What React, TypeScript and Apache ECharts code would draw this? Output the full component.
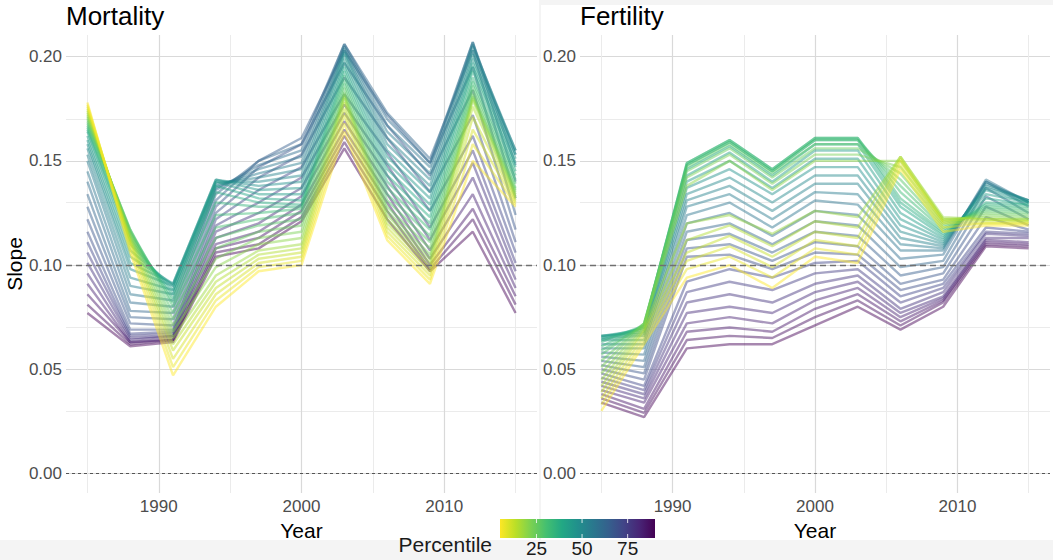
import React, { useEffect, useRef } from "react";
import * as echarts from "echarts";

const years = [1985, 1988, 1991, 1994, 1997, 2000, 2003, 2006, 2009, 2012, 2015];
const percentiles = [5, 7.5, 10, 12.5, 15, 17.5, 20, 22.5, 25, 27.5, 30, 32.5, 35, 37.5, 40, 42.5, 45, 47.5, 50, 52.5, 55, 57.5, 60, 62.5, 65, 67.5, 70, 72.5, 75, 77.5, 80, 82.5, 85, 87.5, 90];

// Mortality slope, one array per year, values ordered by percentile
const mort1985 = [0.178,0.177,0.176,0.175,0.174,0.173, 0.172,0.171,0.170,0.169,0.168,0.167,0.166,0.165, 0.164,0.162,0.160,0.158,0.156,0.153,0.150, 0.145,0.140,0.134,0.128,0.122,0.116, 0.111,0.106,0.101,0.096,0.091,0.086,0.081,0.077];
const mort1988 = [0.106,0.108,0.110,0.111,0.112,0.113, 0.114,0.115,0.116,0.117,0.117,0.116,0.114,0.112, 0.110,0.107,0.104,0.101,0.098,0.094,0.090, 0.086,0.082,0.078,0.075,0.072,0.069, 0.067,0.066,0.065,0.064,0.063,0.063,0.062,0.061];
const mort1991 = [0.047,0.051,0.055,0.059,0.062,0.065, 0.068,0.071,0.074,0.077,0.080,0.082,0.084,0.086, 0.088,0.090,0.091,0.091,0.090,0.088,0.086, 0.083,0.080,0.077,0.074,0.071,0.069, 0.068,0.067,0.066,0.066,0.065,0.064,0.064,0.063];
const mort1994 = [0.080,0.083,0.086,0.089,0.092,0.095, 0.099,0.103,0.108,0.113,0.118,0.124,0.130,0.135, 0.138,0.140,0.141,0.141,0.140,0.139,0.138, 0.137,0.136,0.134,0.131,0.128,0.125, 0.122,0.119,0.116,0.113,0.110,0.108,0.106,0.104];
const mort1997 = [0.097,0.099,0.101,0.103,0.105,0.107, 0.110,0.113,0.116,0.119,0.122,0.125,0.128,0.130, 0.132,0.134,0.136,0.138,0.140,0.142,0.144, 0.146,0.148,0.150,0.150,0.147,0.142, 0.136,0.130,0.125,0.120,0.116,0.113,0.110,0.108];
const mort2000 = [0.100,0.102,0.104,0.106,0.108,0.110, 0.113,0.116,0.119,0.122,0.125,0.127,0.128,0.129, 0.131,0.134,0.137,0.140,0.143,0.146,0.149, 0.152,0.155,0.158,0.161,0.158,0.153, 0.147,0.142,0.137,0.133,0.129,0.126,0.123,0.121];
const mort2003 = [0.164,0.168,0.172,0.175,0.178,0.180, 0.181,0.182,0.183,0.185,0.187,0.189,0.191,0.193, 0.195,0.197,0.199,0.201,0.202,0.203,0.204, 0.205,0.206,0.206,0.203,0.197,0.190, 0.182,0.177,0.173,0.169,0.165,0.162,0.159,0.156];
const mort2006 = [0.112,0.114,0.116,0.118,0.120,0.122, 0.124,0.126,0.128,0.131,0.134,0.137,0.140,0.143, 0.146,0.149,0.152,0.155,0.158,0.161,0.164, 0.167,0.170,0.173,0.172,0.167,0.161, 0.154,0.148,0.143,0.138,0.134,0.130,0.126,0.122];
const mort2009 = [0.091,0.093,0.095,0.097,0.099,0.101, 0.103,0.105,0.108,0.111,0.114,0.117,0.120,0.123, 0.126,0.129,0.132,0.135,0.138,0.141,0.144, 0.147,0.149,0.151,0.149,0.143,0.135, 0.126,0.118,0.112,0.107,0.103,0.100,0.098,0.097];
const mort2012 = [0.150,0.158,0.165,0.171,0.176,0.179, 0.180,0.181,0.182,0.184,0.186,0.188,0.190,0.193, 0.195,0.197,0.199,0.201,0.203,0.205,0.206, 0.207,0.207,0.203,0.195,0.184,0.172, 0.162,0.155,0.149,0.142,0.134,0.127,0.122,0.116];
const mort2015 = [0.128,0.129,0.130,0.131,0.132,0.133, 0.134,0.135,0.136,0.137,0.139,0.141,0.143,0.145, 0.147,0.149,0.151,0.153,0.155,0.155,0.153, 0.148,0.140,0.132,0.124,0.117,0.111, 0.106,0.101,0.097,0.093,0.089,0.085,0.081,0.077];

// Fertility slope, one array per year, values ordered by percentile
const fert1985 = [0.030,0.033,0.036,0.039,0.042,0.045, 0.048,0.051,0.054,0.057,0.059,0.061,0.063,0.064, 0.065,0.066,0.066,0.066,0.065,0.064,0.062, 0.060,0.058,0.056,0.054,0.052,0.050, 0.048,0.046,0.044,0.042,0.040,0.038,0.036,0.034];
const fert1988 = [0.062,0.064,0.066,0.068,0.069,0.070, 0.071,0.072,0.072,0.072,0.071,0.071,0.071,0.070, 0.070,0.069,0.068,0.067,0.066,0.064,0.062, 0.060,0.057,0.054,0.051,0.048,0.045, 0.042,0.040,0.038,0.036,0.034,0.031,0.029,0.027];
const fert1991 = [0.094,0.098,0.102,0.106,0.112,0.120, 0.138,0.142,0.145,0.147,0.148,0.149,0.149,0.148, 0.146,0.143,0.140,0.137,0.134,0.131,0.128, 0.124,0.120,0.116,0.112,0.108,0.104, 0.092,0.087,0.082,0.077,0.072,0.068,0.064,0.060];
const fert1994 = [0.100,0.104,0.109,0.114,0.119,0.124, 0.150,0.153,0.156,0.158,0.159,0.160,0.160,0.159, 0.157,0.154,0.150,0.146,0.142,0.138,0.134, 0.130,0.125,0.120,0.115,0.110,0.105, 0.098,0.092,0.086,0.080,0.075,0.070,0.066,0.062];
const fert1997 = [0.089,0.094,0.099,0.104,0.109,0.115, 0.136,0.139,0.142,0.144,0.145,0.146,0.146,0.145, 0.143,0.140,0.137,0.134,0.130,0.126,0.122, 0.118,0.114,0.110,0.106,0.102,0.098, 0.094,0.088,0.082,0.077,0.072,0.068,0.065,0.062];
const fert2000 = [0.104,0.108,0.112,0.116,0.121,0.126, 0.150,0.153,0.156,0.158,0.160,0.161,0.161,0.160, 0.158,0.155,0.151,0.147,0.143,0.139,0.135, 0.131,0.126,0.121,0.116,0.111,0.106, 0.101,0.096,0.091,0.087,0.083,0.079,0.075,0.071];
const fert2003 = [0.101,0.105,0.109,0.113,0.118,0.123, 0.150,0.153,0.156,0.158,0.160,0.161,0.161,0.160, 0.158,0.155,0.151,0.147,0.143,0.139,0.134, 0.129,0.124,0.119,0.114,0.109,0.105, 0.102,0.098,0.095,0.092,0.089,0.086,0.083,0.080];
const fert2006 = [0.146,0.148,0.150,0.151,0.152,0.152, 0.150,0.147,0.144,0.141,0.138,0.135,0.132,0.130, 0.128,0.125,0.122,0.119,0.116,0.113,0.110, 0.107,0.103,0.099,0.095,0.091,0.088, 0.085,0.082,0.079,0.077,0.075,0.073,0.071,0.069];
const fert2009 = [0.116,0.118,0.120,0.121,0.122,0.123, 0.122,0.121,0.120,0.119,0.118,0.117,0.116,0.115, 0.114,0.113,0.112,0.111,0.110,0.109,0.108, 0.107,0.105,0.102,0.099,0.096,0.093, 0.091,0.089,0.087,0.085,0.084,0.083,0.082,0.080];
const fert2012 = [0.119,0.120,0.120,0.121,0.122,0.122, 0.123,0.124,0.125,0.126,0.127,0.128,0.129,0.130, 0.132,0.134,0.136,0.137,0.138,0.139,0.140, 0.141,0.140,0.137,0.133,0.128,0.123, 0.118,0.116,0.115,0.113,0.112,0.111,0.110,0.109];
const fert2015 = [0.119,0.120,0.120,0.121,0.121,0.122, 0.122,0.123,0.124,0.125,0.126,0.127,0.128,0.129, 0.129,0.130,0.130,0.131,0.131,0.131,0.130, 0.130,0.128,0.125,0.122,0.119,0.117, 0.116,0.115,0.114,0.113,0.111,0.110,0.109,0.108];

const mortalityColumns = [mort1985, mort1988, mort1991, mort1994, mort1997, mort2000, mort2003, mort2006, mort2009, mort2012, mort2015];
const fertilityColumns = [fert1985, fert1988, fert1991, fert1994, fert1997, fert2000, fert2003, fert2006, fert2009, fert2012, fert2015];

const xLabelTicks = [1990, 2000, 2010];
const xMinorGrid = [1985, 1995, 2005, 2015];
const yLabelTicks = [0, 0.05, 0.1, 0.15, 0.2];
const yMinorGrid = [0.025, 0.075, 0.125, 0.175];
const referenceLines = [0, 0.1];
const legendTicks = [25, 50, 75];
const percentileRange = [5, 90];

const viridisStops = ["#440154", "#482576", "#414487", "#35608D", "#2A788E", "#21908C", "#22A884", "#43BF71", "#7AD151", "#BBDF27", "#FDE725"];

const FONT = '"Liberation Sans", Arial, Helvetica, sans-serif';

function hexToRgb(h: string) {
  const n = parseInt(h.slice(1), 16);
  return [(n >> 16) & 255, (n >> 8) & 255, n & 255];
}
function viridis(t: number) {
  const n = viridisStops.length - 1;
  const x = Math.max(0, Math.min(1, t)) * n;
  const k = Math.min(n - 1, Math.floor(x));
  const f = x - k;
  const a = hexToRgb(viridisStops[k]);
  const b = hexToRgb(viridisStops[k + 1]);
  const c = a.map((v, j) => Math.round(v + (b[j] - v) * f));
  return `rgb(${c.join(",")})`;
}
function colorFor(p: number) {
  return viridis(1 - (p - percentileRange[0]) / (percentileRange[1] - percentileRange[0]));
}

function makeLines(columns: number[][], gi: number) {
  // high percentiles first so the low (yellow) percentiles are drawn on top
  const order = percentiles.map((_, i) => i).reverse();
  return order.map((i) => {
    const p = percentiles[i];
    const col = colorFor(p);
    return {
      type: "line",
      name: `${gi}-${p}`,
      xAxisIndex: gi,
      yAxisIndex: gi,
      data: years.map((y, j) => [y, columns[j][i]]),
      symbol: "none",
      silent: true,
      z: 3,
      lineStyle: { color: col, width: 2.4, opacity: 0.47 },
      itemStyle: { color: col },
    };
  });
}

function gridSeries(gi: number) {
  const major = { color: "#d9d9d9", width: 1.2, type: "solid" };
  const minor = { color: "#ebebeb", width: 1, type: "solid" };
  return {
    type: "line",
    xAxisIndex: gi,
    yAxisIndex: gi,
    data: [],
    symbol: "none",
    silent: true,
    markLine: {
      z: 1,
      silent: true,
      symbol: ["none", "none"],
      label: { show: false },
      data: [
        ...yMinorGrid.map((v) => ({ yAxis: v, lineStyle: minor })),
        ...yLabelTicks.map((v) => ({ yAxis: v, lineStyle: major })),
        ...xMinorGrid.map((v) => ({ xAxis: v, lineStyle: minor })),
        ...xLabelTicks.map((v) => ({ xAxis: v, lineStyle: major })),
      ],
    },
  };
}

function refSeries(gi: number) {
  return {
    type: "line",
    xAxisIndex: gi,
    yAxisIndex: gi,
    data: [],
    symbol: "none",
    silent: true,
    markLine: {
      z: 10,
      silent: true,
      symbol: ["none", "none"],
      label: { show: false },
      data: referenceLines.map((v) => ({
        yAxis: v,
        lineStyle: v === 0
          ? { color: "#555555", width: 1, type: [3, 3] }
          : { color: "#707070", width: 1.4, type: [6, 4] },
      })),
    },
  };
}

export default function App() {
  const ref = useRef<HTMLDivElement>(null);
  useEffect(() => {
    if (!ref.current) return;
    const chart = echarts.init(ref.current, undefined, { renderer: "svg" });

    const xAxisFor = (gi: number) => ({
      type: "value",
      gridIndex: gi,
      min: 1983.5,
      max: 2016.5,
      minInterval: 10,
      maxInterval: 10,
      splitLine: { show: false },
      axisLine: { show: false },
      axisTick: { show: false },
      axisLabel: {
        color: "#4d4d4d",
        fontSize: 17,
        fontFamily: FONT,
        margin: 5,
        formatter: (v: number) => (xLabelTicks.some((t) => Math.abs(t - v) < 1e-6) ? String(v) : ""),
      },
      name: "Year",
      nameLocation: "middle",
      nameGap: 20,
      nameTextStyle: { fontSize: 21, color: "#000", fontFamily: FONT },
    });
    const yAxisFor = (gi: number) => ({
      type: "value",
      gridIndex: gi,
      min: -0.0094,
      max: 0.2104,
      minInterval: 0.05,
      maxInterval: 0.05,
      splitLine: { show: false },
      axisLine: { show: false },
      axisTick: { show: false },
      axisLabel: {
        color: "#4d4d4d",
        fontSize: 17,
        fontFamily: FONT,
        margin: 4,
        formatter: (v: number) => (yLabelTicks.some((t) => Math.abs(t - v) < 1e-9) ? v.toFixed(2) : ""),
      },
      name: gi === 0 ? "Slope" : "",
      nameLocation: "middle",
      nameGap: 40,
      nameTextStyle: { fontSize: 21, color: "#000", fontFamily: FONT },
    });

    const barX = 500, barY = 519, barW = 155, barH = 19;
    const tickX = (p: number) => barX + ((p - percentileRange[0]) / (percentileRange[1] - percentileRange[0])) * barW;
    const gray = "#f4f4f4";

    chart.setOption({
      animation: false,
      backgroundColor: "#ffffff",
      title: [
        { text: "Mortality", left: 66, top: 3, padding: 0, textStyle: { fontSize: 26, fontWeight: "normal", color: "#000", fontFamily: FONT } },
        { text: "Fertility", left: 580, top: 3, padding: 0, textStyle: { fontSize: 26, fontWeight: "normal", color: "#000", fontFamily: FONT } },
      ],
      grid: [
        { left: 66, top: 35, width: 471, height: 458 },
        { left: 580, top: 35, width: 470, height: 458 },
      ],
      xAxis: [xAxisFor(0), xAxisFor(1)],
      yAxis: [yAxisFor(0), yAxisFor(1)],
      graphic: [
        { type: "rect", silent: true, shape: { x: 0, y: 540, width: 1053, height: 20 }, style: { fill: gray } },
        { type: "rect", silent: true, shape: { x: 539, y: 0, width: 514, height: 5 }, style: { fill: gray } },
        { type: "rect", silent: true, shape: { x: 539, y: 0, width: 2, height: 560 }, style: { fill: gray } },
        {
          type: "text",
          silent: true,
          x: 492,
          y: 544,
          style: { text: "Percentile", fontSize: 21, fontFamily: FONT, fill: "#1a1a1a", align: "right", verticalAlign: "middle" },
        },
        {
          type: "rect",
          silent: true,
          shape: { x: barX, y: barY, width: barW, height: barH },
          style: {
            fill: new echarts.graphic.LinearGradient(0, 0, 1, 0,
              viridisStops.slice().reverse().map((c, k) => ({ offset: k / (viridisStops.length - 1), color: c }))),
          },
        },
        ...legendTicks.flatMap((p) => [
          { type: "line", silent: true, shape: { x1: tickX(p), y1: barY, x2: tickX(p), y2: barY + 4 }, style: { stroke: "rgba(255,255,255,0.8)", lineWidth: 1 } },
          { type: "line", silent: true, shape: { x1: tickX(p), y1: barY + barH - 4, x2: tickX(p), y2: barY + barH }, style: { stroke: "rgba(255,255,255,0.8)", lineWidth: 1 } },
          {
            type: "text",
            silent: true,
            x: tickX(p),
            y: 548,
            style: { text: String(p), fontSize: 19, fontFamily: FONT, fill: "#1a1a1a", align: "center", verticalAlign: "middle" },
          },
        ]),
      ],
      series: [
        gridSeries(0),
        gridSeries(1),
        ...makeLines(mortalityColumns, 0),
        ...makeLines(fertilityColumns, 1),
        refSeries(0),
        refSeries(1),
      ],
    });
    return () => chart.dispose();
  }, []);

  return (
    <div style={{ position: "absolute", left: 0, top: 0, width: 1053, height: 560 }}>
      <div ref={ref} style={{ width: 1053, height: 560 }} />
    </div>
  );
}
